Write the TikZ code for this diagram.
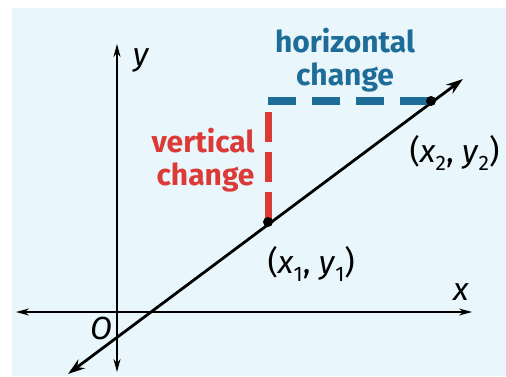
\documentclass[tikz,border=0pt]{standalone}
\usepackage{fontspec}
\setmainfont{Fira Sans}
\usetikzlibrary{arrows.meta}
\definecolor{bgblue}{HTML}{E9F6FB}
\definecolor{hblue}{HTML}{1E6C98}
\definecolor{vred}{HTML}{DC3A36}
\newcommand{\sub}[1]{\raisebox{-0.5ex}{\fontsize{21}{21}\selectfont #1}}

\begin{document}
\begin{tikzpicture}[x=1pt,y={(0pt,-1pt)},
    axis/.style={line width=1.4pt,{Stealth[length=13pt,width=7pt]}-{Stealth[length=13pt,width=7pt]}},
    lbl/.style={font=\fontsize{32}{34}\selectfont},
    chg/.style={font=\fontsize{30}{33}\selectfont\bfseries,align=center},
    pt/.style={circle,fill=black,inner sep=0pt,minimum size=10pt}]
    \useasboundingbox (0,0) rectangle (506,376);
    \fill[bgblue] (12,8) rectangle (506,376);

    % axes
    \coordinate (xl) at (16,312);
    \coordinate (xr) at (472,312);
    \coordinate (yt) at (117,44);
    \coordinate (yb) at (117,372);
    \draw[axis] (xl) -- (xr);
    \draw[axis] (yb) -- (yt);
    \node[lbl] (xlab) at (461,292) {\textit{x}};
    \node[lbl] (ylab) at (141,60) {\textit{y}};
    \node[lbl] (orig) at (101,328) {\textit{O}};

    % line through the two points
    \coordinate (la) at (68,374);
    \coordinate (lb) at (463,79);
    \draw[line width=2.8pt,{Stealth[length=17pt,width=11pt]}-{Stealth[length=17pt,width=11pt]}] (la) -- (lb);

    \coordinate (p1) at (268,222);
    \coordinate (p2) at (431,101);
    \coordinate (corner) at (268,101);

    % changes
    \draw[vred,line width=7pt,dash pattern=on 30pt off 10pt] (p1) -- (corner |- 0,111);
    \draw[hblue,line width=8pt,dash pattern=on 28pt off 16pt] (corner) -- (p2);

    \node[pt] (dot1) at (p1) {};
    \node[pt] (dot2) at (p2) {};

    \node[chg,hblue] (hlab) at (345,60) {horizontal\\change};
    \node[chg,vred,align=right,anchor=east] (vlab) at (258,160) {vertical\\change};
    \node[lbl,anchor=west] (p1lab) at (264,264) {(\textit{x}\sub{1}, \textit{y}\sub{1})};
    \node[lbl,anchor=west] (p2lab) at (406,153) {(\textit{x}\sub{2}, \textit{y}\sub{2})};
\end{tikzpicture}
\end{document}
